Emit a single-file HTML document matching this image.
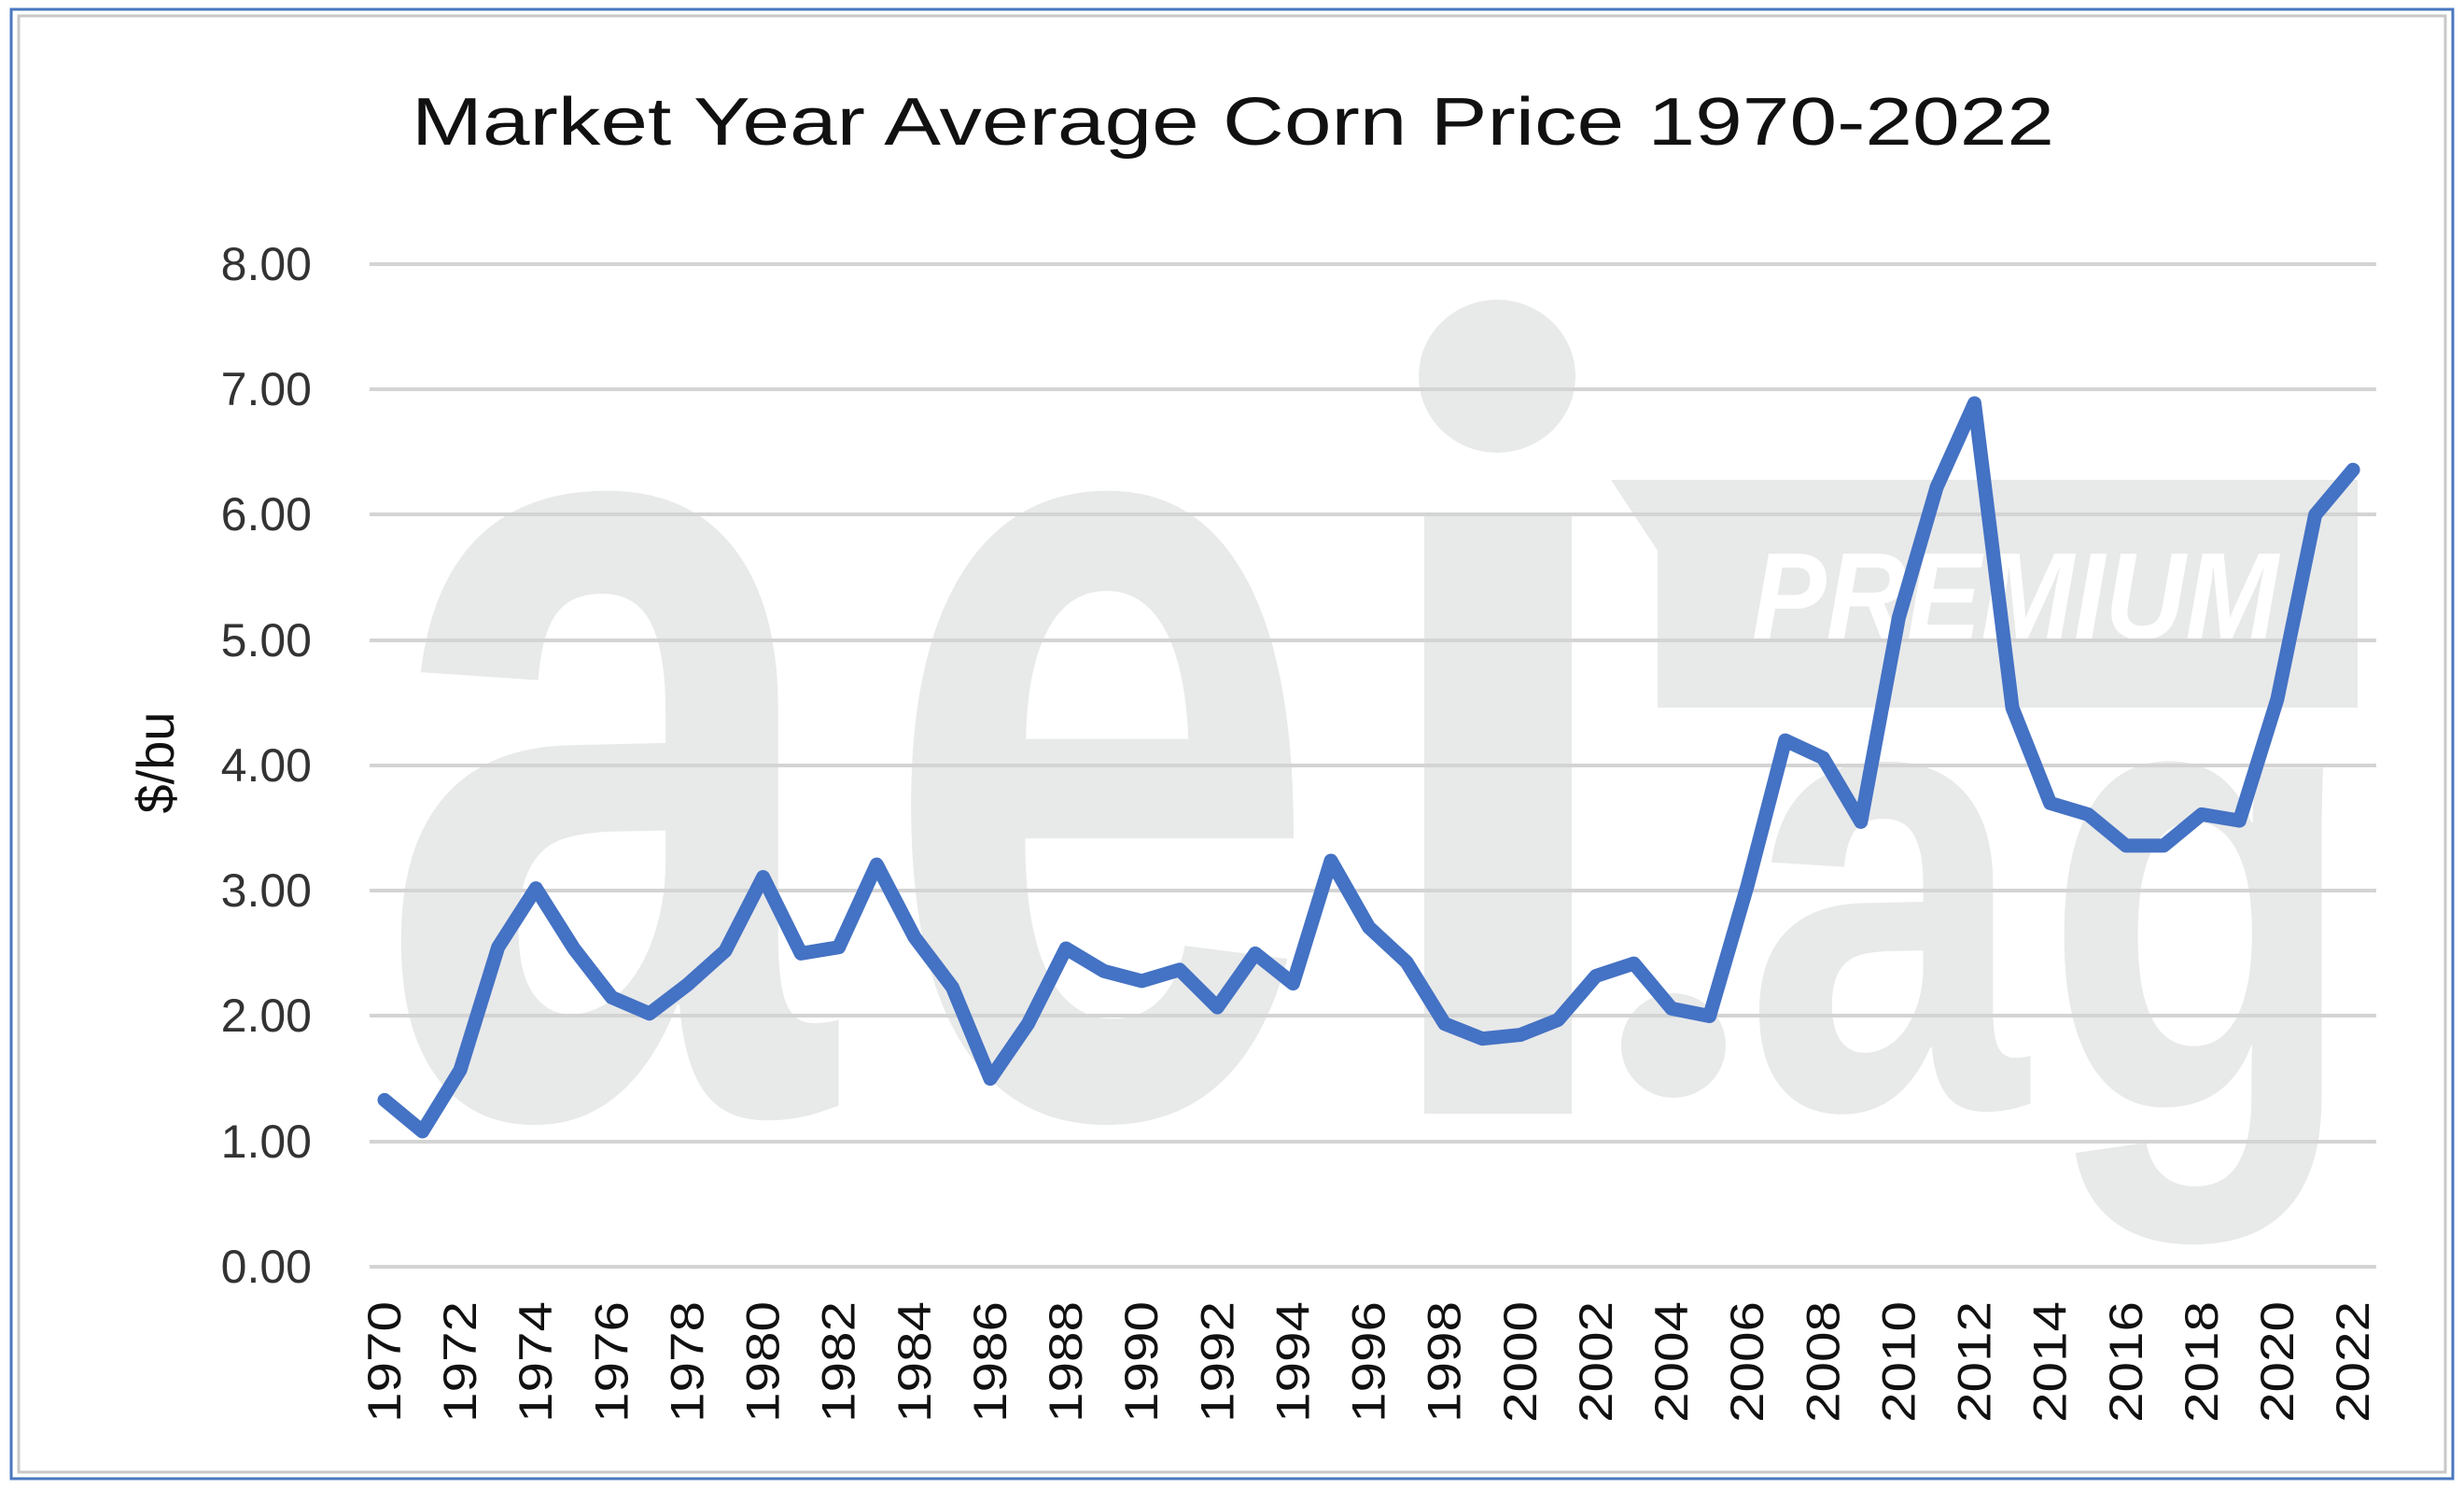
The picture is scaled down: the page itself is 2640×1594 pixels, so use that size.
<!DOCTYPE html>
<html><head><meta charset="utf-8"><style>
html,body{margin:0;padding:0;background:#fff;width:2640px;height:1594px;overflow:hidden}
svg{display:block}
</style></head><body>
<svg width="2640" height="1594" viewBox="0 0 2640 1594" xmlns="http://www.w3.org/2000/svg">
<rect x="0" y="0" width="2640" height="1594" fill="#fff"/>
<rect x="12" y="10" width="2616" height="1574" fill="none" stroke="#4a78c0" stroke-width="3"/>
<rect x="20" y="17" width="2600" height="1560" fill="none" stroke="#c8c8c8" stroke-width="3"/>
<g fill="#e8e9e9" font-family="Liberation Sans, sans-serif" font-weight="bold">
<text x="404" y="1193" font-size="1240" textLength="489" lengthAdjust="spacingAndGlyphs">a</text>
<text x="943" y="1193" font-size="1240" textLength="472" lengthAdjust="spacingAndGlyphs">e</text>
<rect x="1526" y="553" width="158" height="640"/>
<ellipse cx="1604" cy="403" rx="84" ry="82"/>
<circle cx="1793" cy="1120" r="56"/>
<text x="1869" y="1187" font-size="690" textLength="303" lengthAdjust="spacingAndGlyphs">a</text>
<text x="2189" y="1187" font-size="690" textLength="337" lengthAdjust="spacingAndGlyphs">g</text>
<polygon points="1726,514 2526,514 2526,758 1776,758 1776,590"/>
</g>
<text x="1877" y="684" font-family="Liberation Sans, sans-serif" font-weight="bold" font-style="italic" font-size="132" fill="#fff" textLength="564" lengthAdjust="spacingAndGlyphs">PREMIUM</text>
<g stroke="#d4d4d4" stroke-width="4">
<line x1="396" x2="2546" y1="283" y2="283"/>
<line x1="396" x2="2546" y1="417" y2="417"/>
<line x1="396" x2="2546" y1="551" y2="551"/>
<line x1="396" x2="2546" y1="686" y2="686"/>
<line x1="396" x2="2546" y1="820" y2="820"/>
<line x1="396" x2="2546" y1="954" y2="954"/>
<line x1="396" x2="2546" y1="1088" y2="1088"/>
<line x1="396" x2="2546" y1="1223" y2="1223"/>
<line x1="396" x2="2546" y1="1357" y2="1357"/>
</g>
<text x="1321" y="155" text-anchor="middle" font-family="Liberation Sans, sans-serif" font-size="72" fill="#111" textLength="1760" lengthAdjust="spacingAndGlyphs">Market Year Average Corn Price 1970-2022</text>
<g font-family="Liberation Sans, sans-serif" font-size="50" fill="#333" text-anchor="end">
<text x="334" y="300">8.00</text><text x="334" y="434">7.00</text><text x="334" y="568">6.00</text>
<text x="334" y="703">5.00</text><text x="334" y="837">4.00</text><text x="334" y="971">3.00</text>
<text x="334" y="1105">2.00</text><text x="334" y="1240">1.00</text><text x="334" y="1374">0.00</text>
</g>
<text transform="translate(186,817) rotate(-90)" text-anchor="middle" font-family="Liberation Sans, sans-serif" font-size="56" fill="#111">$/bu</text>
<g font-family="Liberation Sans Narrow, Liberation Sans, sans-serif" font-size="50" fill="#111" text-anchor="end">
<text transform="translate(429.0,1394) rotate(-90)" textLength="130" lengthAdjust="spacingAndGlyphs">1970</text>
<text transform="translate(510.1,1394) rotate(-90)" textLength="130" lengthAdjust="spacingAndGlyphs">1972</text>
<text transform="translate(591.2,1394) rotate(-90)" textLength="130" lengthAdjust="spacingAndGlyphs">1974</text>
<text transform="translate(672.4,1394) rotate(-90)" textLength="130" lengthAdjust="spacingAndGlyphs">1976</text>
<text transform="translate(753.5,1394) rotate(-90)" textLength="130" lengthAdjust="spacingAndGlyphs">1978</text>
<text transform="translate(834.6,1394) rotate(-90)" textLength="130" lengthAdjust="spacingAndGlyphs">1980</text>
<text transform="translate(915.7,1394) rotate(-90)" textLength="130" lengthAdjust="spacingAndGlyphs">1982</text>
<text transform="translate(996.8,1394) rotate(-90)" textLength="130" lengthAdjust="spacingAndGlyphs">1984</text>
<text transform="translate(1078.0,1394) rotate(-90)" textLength="130" lengthAdjust="spacingAndGlyphs">1986</text>
<text transform="translate(1159.1,1394) rotate(-90)" textLength="130" lengthAdjust="spacingAndGlyphs">1988</text>
<text transform="translate(1240.2,1394) rotate(-90)" textLength="130" lengthAdjust="spacingAndGlyphs">1990</text>
<text transform="translate(1321.3,1394) rotate(-90)" textLength="130" lengthAdjust="spacingAndGlyphs">1992</text>
<text transform="translate(1402.4,1394) rotate(-90)" textLength="130" lengthAdjust="spacingAndGlyphs">1994</text>
<text transform="translate(1483.6,1394) rotate(-90)" textLength="130" lengthAdjust="spacingAndGlyphs">1996</text>
<text transform="translate(1564.7,1394) rotate(-90)" textLength="130" lengthAdjust="spacingAndGlyphs">1998</text>
<text transform="translate(1645.8,1394) rotate(-90)" textLength="130" lengthAdjust="spacingAndGlyphs">2000</text>
<text transform="translate(1726.9,1394) rotate(-90)" textLength="130" lengthAdjust="spacingAndGlyphs">2002</text>
<text transform="translate(1808.0,1394) rotate(-90)" textLength="130" lengthAdjust="spacingAndGlyphs">2004</text>
<text transform="translate(1889.2,1394) rotate(-90)" textLength="130" lengthAdjust="spacingAndGlyphs">2006</text>
<text transform="translate(1970.3,1394) rotate(-90)" textLength="130" lengthAdjust="spacingAndGlyphs">2008</text>
<text transform="translate(2051.4,1394) rotate(-90)" textLength="130" lengthAdjust="spacingAndGlyphs">2010</text>
<text transform="translate(2132.5,1394) rotate(-90)" textLength="130" lengthAdjust="spacingAndGlyphs">2012</text>
<text transform="translate(2213.6,1394) rotate(-90)" textLength="130" lengthAdjust="spacingAndGlyphs">2014</text>
<text transform="translate(2294.8,1394) rotate(-90)" textLength="130" lengthAdjust="spacingAndGlyphs">2016</text>
<text transform="translate(2375.9,1394) rotate(-90)" textLength="130" lengthAdjust="spacingAndGlyphs">2018</text>
<text transform="translate(2457.0,1394) rotate(-90)" textLength="130" lengthAdjust="spacingAndGlyphs">2020</text>
<text transform="translate(2538.1,1394) rotate(-90)" textLength="130" lengthAdjust="spacingAndGlyphs">2022</text>
</g>
<polyline fill="none" stroke="#4472C4" stroke-width="15" stroke-linejoin="round" stroke-linecap="round" points="412.0,1178.4 452.6,1212.0 493.1,1146.2 533.7,1014.7 574.2,951.6 614.8,1016.0 655.4,1068.4 695.9,1085.8 736.5,1054.9 777.0,1018.7 817.6,939.5 858.2,1021.4 898.7,1014.7 939.3,926.1 979.8,1003.9 1020.4,1057.6 1061.0,1155.6 1101.5,1096.6 1142.1,1016.0 1182.6,1040.2 1223.2,1050.9 1263.8,1038.8 1304.3,1079.1 1344.9,1021.4 1385.4,1053.6 1426.0,922.0 1466.6,993.2 1507.1,1030.8 1547.7,1096.6 1588.2,1112.7 1628.8,1108.6 1669.4,1092.5 1709.9,1045.5 1750.5,1032.1 1791.0,1080.4 1831.6,1088.5 1872.2,948.9 1912.7,793.1 1953.3,811.9 1993.8,880.4 2034.4,661.6 2075.0,522.0 2115.5,432.0 2156.1,758.2 2196.6,860.3 2237.2,872.4 2277.8,905.9 2318.3,905.9 2358.9,872.4 2399.4,879.1 2440.0,748.8 2480.6,551.5 2521.1,503.2"/>
</svg>
</body></html>
